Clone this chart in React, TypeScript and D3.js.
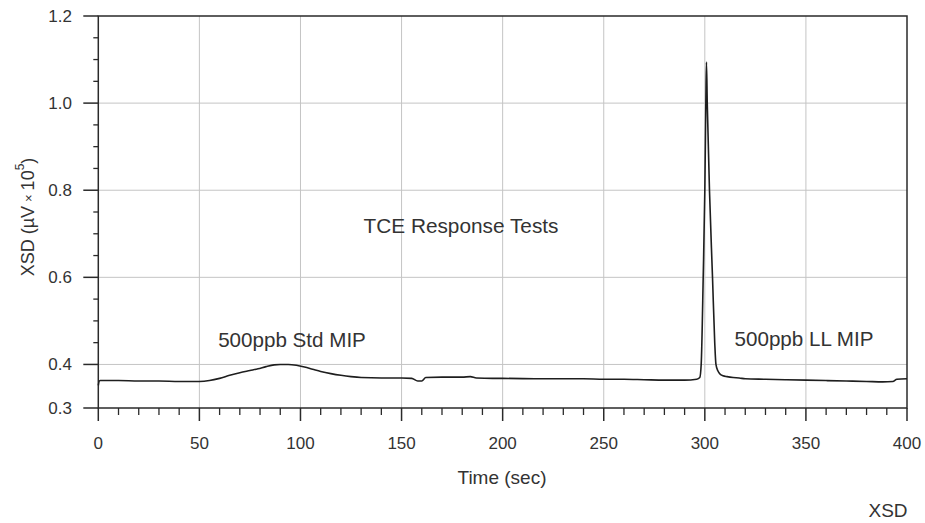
import { useEffect, useRef } from "react";
import * as d3 from "d3";

// Time (sec) and XSD response (µV x 10^5)
const timeSec = [
  0, 0.5, 1, 5, 10, 20, 30, 40, 50, 55, 60, 65, 70, 75, 79, 83, 87, 90, 94, 98,
  102, 106, 110, 115, 120, 125, 130, 140, 150, 155, 158, 160, 162, 170, 180, 184,
  187, 195, 200, 220, 240, 250, 260, 270, 280, 290, 296, 297.5, 298.2, 299.2,
  300.0, 300.5, 300.8, 301.2, 302.3, 303.8, 304.9, 305.5, 306.5, 307.5, 309, 311,
  314, 317, 320, 330, 340, 350, 360, 370, 380, 388, 393, 395, 400,
];
const xsdValues = [
  0.352, 0.362, 0.363, 0.363, 0.363, 0.362, 0.362, 0.361, 0.361, 0.363, 0.368,
  0.375, 0.381, 0.386, 0.39, 0.395, 0.399, 0.4, 0.4, 0.398, 0.394, 0.389, 0.384,
  0.379, 0.375, 0.372, 0.37, 0.369, 0.369, 0.368, 0.362, 0.362, 0.37, 0.371,
  0.371, 0.372, 0.369, 0.368, 0.368, 0.367, 0.367, 0.366, 0.366, 0.365, 0.364,
  0.364, 0.366, 0.37, 0.4, 0.6, 0.8, 1.0, 1.094, 1.0, 0.8, 0.6, 0.45, 0.4, 0.385,
  0.378, 0.374, 0.372, 0.37, 0.369, 0.367, 0.366, 0.365, 0.364, 0.363, 0.362,
  0.361, 0.36, 0.361, 0.366, 0.367,
];

const xTicks = [0, 50, 100, 150, 200, 250, 300, 350, 400];
const yTicks = [0.3, 0.4, 0.6, 0.8, 1.0, 1.2];
const yGrid = [0.4, 0.6, 0.8, 1.0];

const W = 925;
const H = 523;

const App = () => {
  const svgRef = useRef<SVGSVGElement>(null);

  useEffect(() => {
    document.body.style.margin = "0";

    const svg = d3.select(svgRef.current);
    svg.selectAll("*").remove();

    const left = 98.3, right = 907, top = 16, bottom = 408;
    const font = "'Liberation Sans', Arial, sans-serif";
    const txt = "#333";
    const ax = "#2a2a2a";

    const x = d3.scaleLinear().domain([0, 400]).range([left, right]);
    const y = d3.scaleLinear().domain([0.3, 1.2]).range([bottom, top]);

    svg.append("rect").attr("width", W).attr("height", H).attr("fill", "#fff");

    // grid
    svg.append("g")
      .selectAll("line")
      .data(xTicks.filter(d => d > 0 && d < 400))
      .join("line")
      .attr("x1", d => x(d)).attr("x2", d => x(d))
      .attr("y1", top).attr("y2", bottom)
      .attr("stroke", "#c4c4c4").attr("stroke-width", 1);

    svg.append("g")
      .selectAll("line")
      .data(yGrid)
      .join("line")
      .attr("x1", left).attr("x2", right)
      .attr("y1", d => y(d)).attr("y2", d => y(d))
      .attr("stroke", "#c4c4c4").attr("stroke-width", 1);

    // minor ticks
    const xMinor = d3.range(10, 400, 10).filter(d => d % 50 !== 0);
    svg.append("g")
      .selectAll("line")
      .data(xMinor)
      .join("line")
      .attr("x1", d => x(d)).attr("x2", d => x(d))
      .attr("y1", bottom).attr("y2", bottom + 7)
      .attr("stroke", ax).attr("stroke-width", 1.3);

    const yMinor = [0.45, 0.5, 0.55, 0.65, 0.7, 0.75, 0.85, 0.9, 0.95, 1.05, 1.1, 1.15];
    svg.append("g")
      .selectAll("line")
      .data(yMinor)
      .join("line")
      .attr("x1", left - 5).attr("x2", left)
      .attr("y1", d => y(d)).attr("y2", d => y(d))
      .attr("stroke", ax).attr("stroke-width", 1.3);

    // major ticks
    svg.append("g")
      .selectAll("line")
      .data(xTicks)
      .join("line")
      .attr("x1", d => x(d)).attr("x2", d => x(d))
      .attr("y1", bottom).attr("y2", bottom + 13)
      .attr("stroke", ax).attr("stroke-width", 1.5);

    svg.append("g")
      .selectAll("line")
      .data(yTicks)
      .join("line")
      .attr("x1", left - 15).attr("x2", left)
      .attr("y1", d => y(d)).attr("y2", d => y(d))
      .attr("stroke", ax).attr("stroke-width", 1.5);

    // frame
    svg.append("rect")
      .attr("x", left).attr("y", top)
      .attr("width", right - left).attr("height", bottom - top)
      .attr("fill", "none").attr("stroke", ax).attr("stroke-width", 1.5);

    // tick labels
    svg.append("g")
      .selectAll("text")
      .data(xTicks)
      .join("text")
      .attr("x", d => x(d)).attr("y", 443)
      .attr("text-anchor", "middle").attr("dominant-baseline", "central")
      .attr("font-family", font).attr("font-size", 17).attr("fill", txt)
      .text(d => d3.format("d")(d));

    svg.append("g")
      .selectAll("text")
      .data(yTicks)
      .join("text")
      .attr("x", 72).attr("y", d => y(d))
      .attr("text-anchor", "end").attr("dominant-baseline", "central")
      .attr("font-family", font).attr("font-size", 17).attr("fill", txt)
      .text(d => d3.format(".1f")(d));

    // trace
    const pts: [number, number][] = timeSec.map((t, i) => [t, xsdValues[i]]);
    const line = d3.line<[number, number]>()
      .x(d => x(d[0]))
      .y(d => y(d[1]))
      .curve(d3.curveMonotoneX);
    svg.append("path")
      .datum(pts)
      .attr("d", line)
      .attr("fill", "none")
      .attr("stroke", "#1e1e1e")
      .attr("stroke-width", 1.6)
      .attr("stroke-linejoin", "round");

    // axis titles + annotations
    const label = (tx: number, ty: number, s: string, size = 19) =>
      svg.append("text")
        .attr("x", tx).attr("y", ty)
        .attr("text-anchor", "middle").attr("dominant-baseline", "central")
        .attr("font-family", font).attr("font-size", size).attr("fill", txt)
        .text(s);

    label(502, 477, "Time (sec)");
    label(461, 225, "TCE Response Tests", 20.8);
    label(292, 339, "500ppb Std MIP", 20.6);
    label(804, 338, "500ppb LL MIP", 20.6);
    label(888, 510, "XSD");

    const yl = svg.append("text")
      .attr("transform", "translate(28,217) rotate(-90)")
      .attr("text-anchor", "middle").attr("dominant-baseline", "central")
      .attr("font-family", font).attr("font-size", 18).attr("fill", txt);
    yl.append("tspan").text("XSD (µV");
    yl.append("tspan").attr("font-size", 13).attr("dx", 4).text("×");
    yl.append("tspan").attr("dx", 4).text("10");
    yl.append("tspan").attr("font-size", 12).attr("dy", -8).text("5");
    yl.append("tspan").attr("dy", 8).text(")");
  }, []);

  return (
    <div>
      <svg ref={svgRef} width={W} height={H} style={{ display: "block" }} />
    </div>
  );
};

export default App;
